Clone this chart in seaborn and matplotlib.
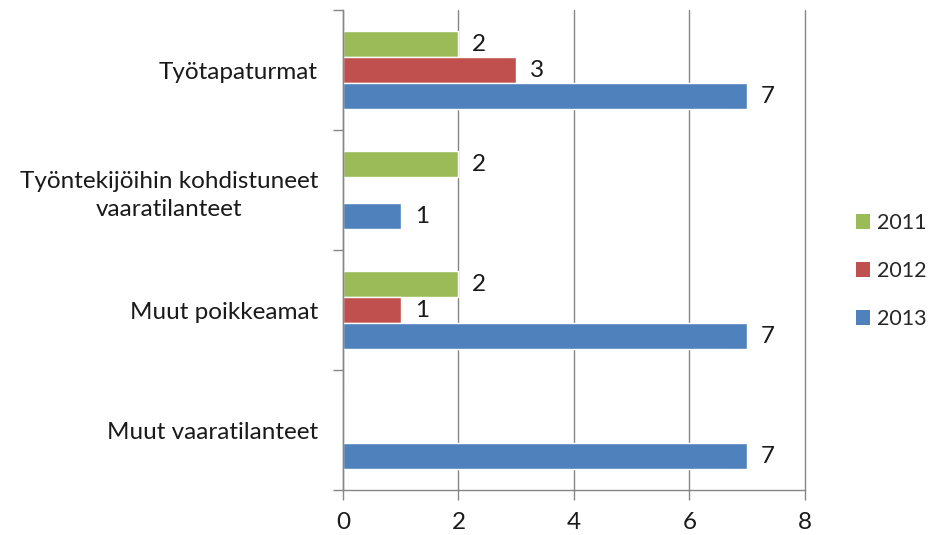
import matplotlib
matplotlib.use("Agg")
import matplotlib.pyplot as plt
from matplotlib.ticker import FixedLocator
from matplotlib.patches import Patch
import seaborn as sns
import pandas as pd

categories = ["Työtapaturmat",
              "Työntekijöihin kohdistuneet\nvaaratilanteet",
              "Muut poikkeamat",
              "Muut vaaratilanteet"]
years = ["2011", "2012", "2013"]
values_2011 = [2, 2, 2, 0]
values_2012 = [3, 0, 1, 0]
values_2013 = [7, 1, 7, 7]
x_ticks = [0, 2, 4, 6, 8]

colors = {"2011": "#9BBB59", "2012": "#C0504D", "2013": "#4F81BD"}

rows = []
for y, vals in zip(years, [values_2011, values_2012, values_2013]):
    for c, v in zip(categories, vals):
        rows.append({"category": c, "year": y, "value": v})
df = pd.DataFrame(rows)

sns.set_style("white")
plt.rcParams["font.family"] = ["Lato", "DejaVu Sans"]
FS = 17.5
TXT = "#1a1a1a"
GRID = "#868686"

fig = plt.figure(figsize=(9.33, 5.35), dpi=100)
ax = fig.add_axes([0.3676, 0.0841, 0.8628 - 0.3676, 0.9813 - 0.0841])

sns.barplot(data=df, y="category", x="value", hue="year", order=categories,
            hue_order=years, palette=colors, orient="h", width=0.65,
            saturation=1, legend=False, ax=ax)

ax.set_xlim(0, 8)
ax.set_ylim(len(categories) - 0.5, -0.5)
ax.set_xticks(x_ticks)
ax.set_xticklabels([str(t) for t in x_ticks], fontsize=FS, color=TXT)
ax.xaxis.grid(True, color=GRID, linewidth=1)
for gl in ax.get_xgridlines():
    gl.set_clip_on(False)
ax.set_axisbelow(True)
ax.set_xlabel("")
ax.set_ylabel("")

ax.set_yticks(range(len(categories)))
ax.set_yticklabels(categories, fontsize=FS, color=TXT, multialignment="center",
                   linespacing=1.4)
ax.yaxis.set_minor_locator(FixedLocator([i - 0.5 for i in range(len(categories) + 1)]))
ax.tick_params(axis="y", which="major", length=0, pad=18)
ax.tick_params(axis="y", which="minor", length=7, color=GRID, width=1, left=True)
ax.tick_params(axis="x", which="major", length=7, color=GRID, width=1, bottom=True, pad=9)

for s in ["top", "right"]:
    ax.spines[s].set_visible(False)
for s in ["left", "bottom"]:
    ax.spines[s].set_color(GRID)
    ax.spines[s].set_linewidth(1)

for container in ax.containers:
    labels = [f"{int(v)}" if v > 0 else "" for v in container.datavalues]
    ax.bar_label(container, labels=labels, padding=10, fontsize=FS, color=TXT)

handles = [Patch(facecolor=colors[y], edgecolor="none", label=y) for y in years]
fig.legend(handles=handles, loc="center left", bbox_to_anchor=(0.917, 0.4935),
           frameon=False, fontsize=15.5, handlelength=0.65, handleheight=0.65,
           handletextpad=0.35, labelspacing=1.3, borderpad=0, borderaxespad=0)

fig.savefig("out.png", dpi=100)
